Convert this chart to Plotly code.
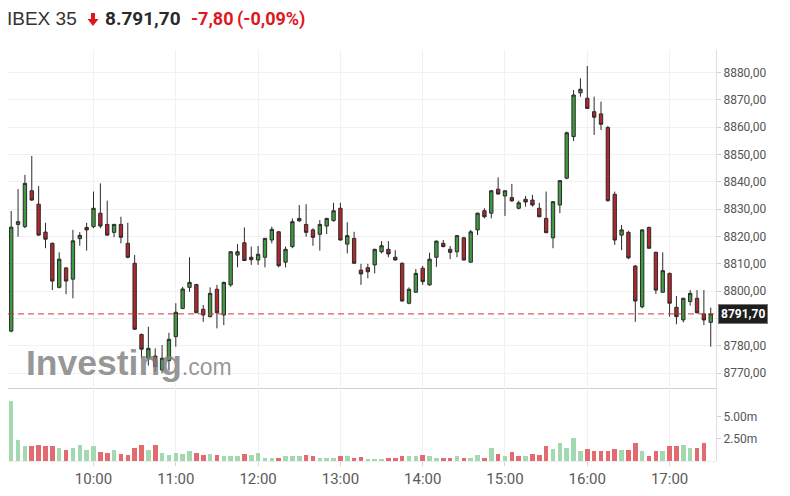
import pandas as pd
import plotly.graph_objects as go

# ---------------- data (5-minute candles, IBEX 35) ----------------
session_start = "2024-01-01 09:00"
bar_interval = "5min"

open_ = [8785.4, 8824.4, 8823.6, 8836.7, 8831.8, 8821.6, 8817.5, 8801.4, 8808.5, 8804.4,
         8819.2, 8823.3, 8823.6, 8828.5, 8824.4, 8821.5, 8824.4, 8817.5, 8810.2, 8784.2,
         8775.5, 8776.3, 8771.2, 8774.6, 8783.4, 8793.7, 8801.4, 8802.4, 8793.4, 8790.7,
         8800.7, 8791.3, 8802.3, 8813.2, 8817.7, 8812.4, 8811.4, 8812.4, 8818.7, 8821.7,
         8810.6, 8816.3, 8826.6, 8824.4, 8822.4, 8820.8, 8823.8, 8825.8, 8830.3, 8817.2,
         8819.3, 8807.7, 8808.6, 8809.6, 8814.4, 8815.3, 8812.4, 8810.2, 8795.6, 8799.6,
         8808.4, 8802.3, 8812.4, 8817.5, 8815.3, 8814.4, 8819.5, 8810.6, 8822.4, 8829.4,
         8828.5, 8837.3, 8834.8, 8834.2, 8830.3, 8833.6, 8833.3, 8830.3, 8826.6, 8819.5,
         8831.5, 8841.3, 8856.5, 8872.5, 8870.5, 8865.6, 8864.8, 8859.8, 8835.4, 8820.5,
         8821.5, 8809.2, 8794.3, 8823.3, 8814.2, 8799.6, 8806.5, 8794.1, 8789.5, 8796.2,
         8797.4, 8791.7, 8788.6]
high = [8829.3, 8837.3, 8842.5, 8849.4, 8838.4, 8825.0, 8817.8, 8814.2, 8808.8, 8822.4,
        8821.6, 8825.0, 8836.4, 8839.4, 8833.1, 8824.6, 8827.2, 8825.0, 8813.2, 8784.5,
        8787.0, 8779.1, 8780.3, 8784.8, 8795.6, 8801.6, 8812.4, 8802.7, 8795.0, 8801.4,
        8802.3, 8803.5, 8814.6, 8817.2, 8823.3, 8816.3, 8816.5, 8819.5, 8823.6, 8822.0,
        8816.3, 8826.6, 8831.5, 8831.8, 8823.0, 8826.0, 8826.8, 8832.3, 8832.3, 8825.2,
        8821.7, 8810.0, 8810.0, 8815.5, 8818.3, 8818.3, 8815.0, 8810.5, 8801.4, 8808.1,
        8809.2, 8814.1, 8818.5, 8818.7, 8816.5, 8820.5, 8819.9, 8822.4, 8828.7, 8830.3,
        8837.0, 8841.6, 8836.9, 8839.2, 8833.1, 8834.8, 8835.2, 8832.3, 8836.4, 8832.9,
        8840.6, 8858.3, 8873.5, 8877.8, 8882.3, 8871.1, 8869.3, 8860.4, 8836.4, 8824.2,
        8822.1, 8809.5, 8822.6, 8823.6, 8814.5, 8814.2, 8806.8, 8798.2, 8797.6, 8800.4,
        8800.4, 8800.4, 8794.0]
low = [8785.0, 8819.9, 8823.0, 8833.0, 8820.2, 8815.7, 8800.4, 8801.0, 8798.9, 8797.4,
       8816.6, 8814.8, 8823.0, 8823.0, 8820.2, 8819.7, 8817.5, 8812.0, 8785.8, 8775.5,
       8772.8, 8770.6, 8770.0, 8771.0, 8779.7, 8793.4, 8799.8, 8792.0, 8788.8, 8790.4,
       8786.4, 8787.6, 8801.6, 8808.7, 8811.0, 8809.6, 8809.6, 8808.7, 8817.5, 8808.7,
       8808.7, 8815.7, 8825.4, 8819.9, 8816.6, 8814.8, 8820.9, 8825.4, 8818.5, 8813.8,
       8810.0, 8802.3, 8804.7, 8806.5, 8813.8, 8812.4, 8811.2, 8796.2, 8795.2, 8799.4,
       8802.3, 8802.0, 8808.9, 8816.0, 8811.7, 8812.4, 8811.2, 8810.4, 8820.5, 8826.6,
       8826.6, 8835.3, 8827.5, 8832.7, 8829.9, 8830.9, 8830.9, 8827.0, 8821.2, 8815.7,
       8828.5, 8840.9, 8854.9, 8871.1, 8866.6, 8857.1, 8858.9, 8832.7, 8816.9, 8815.0,
       8811.7, 8788.8, 8793.7, 8815.5, 8799.0, 8799.4, 8790.7, 8787.9, 8788.6, 8794.7,
       8791.9, 8787.6, 8779.7]
close = [8823.4, 8825.4, 8839.4, 8833.3, 8820.5, 8819.0, 8803.7, 8811.7, 8803.7, 8818.4,
         8820.4, 8822.4, 8830.3, 8823.8, 8820.5, 8824.4, 8819.7, 8812.4, 8786.1, 8778.8,
         8779.1, 8772.4, 8775.5, 8782.4, 8792.3, 8800.8, 8803.2, 8792.1, 8791.3, 8799.2,
         8792.1, 8803.2, 8814.4, 8814.4, 8811.2, 8811.5, 8813.5, 8819.3, 8822.6, 8809.3,
         8815.3, 8825.4, 8825.7, 8821.5, 8819.7, 8824.4, 8826.6, 8829.4, 8818.7, 8820.3,
         8810.2, 8806.3, 8807.1, 8815.3, 8816.6, 8813.6, 8811.4, 8796.4, 8800.7, 8806.5,
         8803.5, 8811.7, 8818.3, 8816.3, 8814.2, 8820.3, 8811.4, 8821.7, 8828.5, 8827.2,
         8836.7, 8835.5, 8836.7, 8833.0, 8832.3, 8832.6, 8831.5, 8827.2, 8821.4, 8832.7,
         8840.4, 8857.9, 8871.7, 8873.8, 8866.8, 8863.6, 8861.0, 8833.1, 8818.7, 8822.4,
         8812.2, 8796.4, 8822.4, 8815.7, 8800.4, 8807.5, 8795.6, 8790.7, 8797.4, 8799.2,
         8792.1, 8789.5, 8791.7]
volume_m = [6.69, 2.32, 1.64, 1.64, 1.76, 1.64, 1.64, 1.46, 1.20, 1.50,
            1.76, 1.20, 1.64, 1.00, 0.93, 1.20, 0.82, 0.63, 1.46, 1.76,
            1.20, 1.76, 0.93, 0.63, 0.93, 0.82, 1.08, 0.93, 0.63, 0.82,
            0.63, 0.52, 0.52, 0.56, 0.82, 0.71, 0.93, 0.34, 0.34, 0.37,
            0.52, 0.52, 0.52, 0.63, 0.52, 0.34, 0.37, 0.34, 0.52, 0.56,
            0.34, 0.45, 0.26, 0.26, 0.26, 0.34, 0.34, 0.52, 0.52, 0.52,
            0.63, 0.52, 0.34, 0.34, 0.34, 0.52, 0.34, 0.34, 0.63, 0.37,
            1.50, 0.75, 0.52, 1.05, 0.52, 0.52, 0.78, 0.63, 1.64, 1.38,
            2.05, 1.50, 2.62, 1.08, 1.38, 1.08, 1.08, 1.08, 1.38, 1.20,
            1.20, 2.05, 1.08, 0.56, 1.08, 1.08, 1.64, 1.64, 1.76, 1.50,
            1.50, 2.05, None]

last_price = 8791.70
header_name = "IBEX 35"
header_price = "8.791,70"
header_change = "-7,80"
header_pct = "(-0,09%)"

price_ticks = [8770, 8780, 8790, 8800, 8810, 8820, 8830, 8840, 8850, 8860, 8870, 8880]
volume_ticks = [2.5, 5.0]
hour_ticks = ["10:00", "11:00", "12:00", "13:00", "14:00", "15:00", "16:00", "17:00"]

# ---------------- derived ----------------
times = pd.date_range(session_start, periods=len(close), freq=bar_interval)
day = session_start.split(" ")[0]
vol = [None if v is None else v * 1e6 for v in volume_m]
GREEN_V, RED_V = "#a3d9b1", "#e36a6e"
vol_colors = []
for i, c in enumerate(close):
    prev = close[i - 1] if i > 0 else open_[0]
    vol_colors.append(GREEN_V if c >= prev else RED_V)

# page geometry (the html body adds an 8px margin)
OFF = 8
W, H = 774, 480
PLOT_L, PLOT_R, PLOT_T, PLOT_B = 8, 716, 50, 461   # in page pixels
ML = PLOT_L - OFF
MR = W - (PLOT_R - OFF)
MT = PLOT_T - OFF
MB = H - (PLOT_B - OFF)
plot_w = PLOT_R - PLOT_L
plot_h = PLOT_B - PLOT_T
sep_px = 388  # boundary price/volume panel (page px)
vol_frac = (PLOT_B - sep_px) / plot_h


def px_x(px):
    return (px - PLOT_L) / plot_w


def px_y(py):
    return (PLOT_B - py) / plot_h


fig = go.Figure()

fig.add_trace(go.Candlestick(
    x=times, open=open_, high=high, low=low, close=close,
    increasing=dict(line=dict(color="#2b2b2b", width=1), fillcolor="#3f9b3f"),
    decreasing=dict(line=dict(color="#2b2b2b", width=1), fillcolor="#b3262b"),
    whiskerwidth=0, xaxis="x", yaxis="y", hoverinfo="skip", showlegend=False,
))

fig.add_trace(go.Bar(
    x=times, y=vol, marker=dict(color=vol_colors, line=dict(width=0)),
    width=200000, xaxis="x2", yaxis="y2", showlegend=False, hoverinfo="skip",
))

x_range = [f"{day} 08:57:40", f"{day} 17:33:50"]
tickvals = [f"{day} {t}" for t in hour_ticks]

# price axis: 8880 at page y=72.3, 2.736 px per point
p_top = 8880 + (72.3 - PLOT_T) / 2.736
p_bot = 8880 - (sep_px - 72.3) / 2.736
v_top = (PLOT_B - sep_px) / 22.3 * 2.5e6

grid = "#f1f1f1"
fig.update_layout(
    width=W, height=H, margin=dict(l=ML, r=MR, t=MT, b=MB),
    paper_bgcolor="white", plot_bgcolor="white",
    font=dict(family="Roboto, Arial, sans-serif", color="#555"),
    bargap=0,
    xaxis=dict(domain=[0, 1], anchor="y", range=x_range, type="date",
               tickvals=tickvals, showticklabels=False, showgrid=True, gridcolor=grid,
               showline=True, linecolor="#cfcfcf", linewidth=1, ticks="",
               rangeslider=dict(visible=False), zeroline=False),
    xaxis2=dict(domain=[0, 1], anchor="y2", matches="x", range=x_range, type="date",
                tickvals=tickvals, ticktext=hour_ticks, showgrid=True, gridcolor=grid,
                tickfont=dict(size=15, color="#5a5a5a"), ticks="outside", ticklen=4,
                tickcolor="#d5d5d5", showline=True, linecolor="#eeeeee", zeroline=False),
    yaxis=dict(domain=[vol_frac, 1], anchor="x", side="right", range=[p_bot, p_top],
               tickvals=price_ticks,
               ticktext=["" if abs(v - last_price) < 5 else f"{v:.2f}".replace(".", ",")
                         for v in price_ticks],
               tickfont=dict(size=12, color="#555"), showgrid=True, gridcolor=grid,
               ticks="outside", ticklen=4, tickcolor="#d0d0d0",
               showline=True, linecolor="#dddddd", zeroline=False),
    yaxis2=dict(domain=[0, vol_frac], anchor="x2", side="right", range=[0, v_top],
                tickvals=[v * 1e6 for v in volume_ticks],
                ticktext=[f"{v:.2f}m" for v in volume_ticks],
                tickfont=dict(size=12, color="#555"), showgrid=False,
                ticks="outside", ticklen=4, tickcolor="#d0d0d0",
                showline=True, linecolor="#dddddd", zeroline=False),
)

# last price dashed line
fig.add_shape(type="line", xref="paper", x0=0, x1=1, yref="y", y0=last_price, y1=last_price,
              line=dict(color="#d0343a", width=1, dash="6px,4px"))

fig.add_annotation(xref="paper", x=1, xanchor="left", xshift=2, yref="y", y=last_price,
                   yanchor="middle", text=f"<b>{last_price:.2f}</b>".replace(".", ","),
                   showarrow=False, bgcolor="#1e1e1e", bordercolor="#777", borderwidth=1,
                   borderpad=2, font=dict(size=12, color="white"))

# watermark
fig.add_annotation(xref="paper", yref="paper", x=px_x(24), y=px_y(363), xanchor="left",
                   yanchor="middle", showarrow=False,
                   text="<b>Investing</b><span style='font-size:23px'>.com</span>",
                   font=dict(size=35.5, color="rgba(128,128,128,0.82)",
                             family="Liberation Sans, Arial, sans-serif"))

# header
hy = px_y(19)


def hx(px):
    return px_x(px - 3)


fig.add_annotation(xref="paper", yref="paper", x=hx(8), y=hy, xanchor="left", yanchor="middle",
                   showarrow=False, text=header_name,
                   font=dict(size=19, color="#333", family="Arial, Liberation Sans, sans-serif"))
fig.add_annotation(xref="paper", yref="paper", x=hx(106), y=hy, xanchor="left", yanchor="middle",
                   showarrow=False, text=f"<b>{header_price}</b>",
                   font=dict(size=19, color="#2a2a2a", family="Roboto, Arial, sans-serif"))
fig.add_annotation(xref="paper", yref="paper", x=hx(192), y=hy, xanchor="left", yanchor="middle",
                   showarrow=False, text=f"<b>{header_change}</b>",
                   font=dict(size=18, color="#e0161e", family="Roboto, Arial, sans-serif"))
fig.add_annotation(xref="paper", yref="paper", x=hx(238), y=hy, xanchor="left", yanchor="middle",
                   showarrow=False, text=f"<b>{header_pct}</b>",
                   font=dict(size=18, color="#e0161e", family="Roboto, Arial, sans-serif"))

# red down arrow icon in the header
arrow_pts = [(91, 13), (95, 13), (95, 19), (98.5, 19), (93, 26), (87.5, 19), (91, 19)]
path = "M " + " L ".join(f"{px_x(a):.5f},{px_y(b):.5f}" for a, b in arrow_pts) + " Z"
fig.add_shape(type="path", xref="paper", yref="paper", path=path,
              fillcolor="#e0161e", line=dict(width=0))

fig.write_html("out.html")
